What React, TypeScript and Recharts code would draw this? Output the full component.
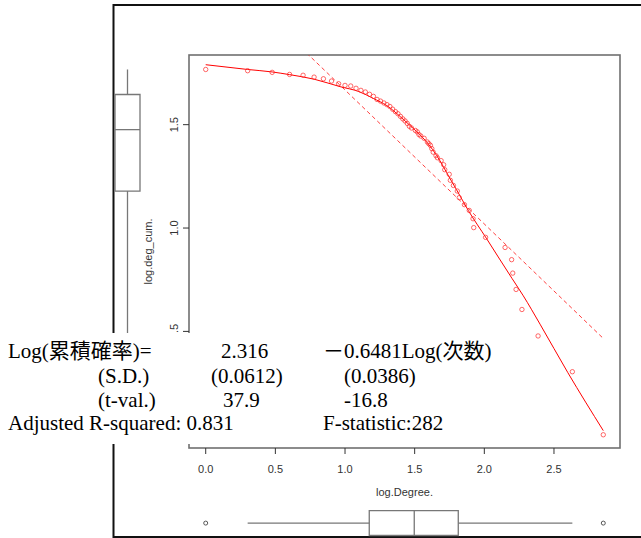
import {
  ComposedChart,
  Line,
  ReferenceArea,
  ReferenceLine,
  Scatter,
  XAxis,
  YAxis,
} from "recharts";

const W = 641;
const H = 538;
const SANS = "'Liberation Sans', Arial, sans-serif";
const SERIF = "'Liberation Serif', 'Noto Sans CJK JP', serif";

// plot region of the scatter panel (page px)
const PLOT = { left: 189, top: 55, right: 620, bottom: 448 };

const X_DOMAIN: [number, number] = [-0.12, 2.974];
const Y_DOMAIN: [number, number] = [-0.064, 1.837];
const xTicks = [0, 0.5, 1, 1.5, 2, 2.5];
const yTicks = [0, 0.5, 1, 1.5];

// observed points: log(degree) vs log(cumulative)
const logDegree = [
  0, 0.301, 0.477, 0.602, 0.699, 0.778, 0.845, 0.903, 0.954, 1.0, 1.041, 1.079,
  1.114, 1.146, 1.176, 1.204, 1.23, 1.255, 1.279, 1.301, 1.322, 1.342, 1.362,
  1.38, 1.398, 1.415, 1.431, 1.447, 1.462, 1.477, 1.505, 1.519, 1.531, 1.544,
  1.568, 1.591, 1.602, 1.613, 1.623, 1.633, 1.653, 1.663, 1.69, 1.708, 1.716,
  1.748, 1.756, 1.778, 1.806, 1.82, 1.857, 1.892, 1.919, 1.924, 2.009, 2.149,
  2.196, 2.204, 2.228, 2.27, 2.386, 2.632, 2.854,
];
const logDegCum = [
  1.767, 1.761, 1.753, 1.743, 1.739, 1.73, 1.722, 1.711, 1.698, 1.69, 1.687,
  1.676, 1.666, 1.658, 1.647, 1.637, 1.622, 1.614, 1.605, 1.597, 1.588, 1.575,
  1.563, 1.553, 1.54, 1.528, 1.518, 1.506, 1.492, 1.484, 1.472, 1.465, 1.452,
  1.445, 1.434, 1.416, 1.408, 1.4, 1.384, 1.367, 1.35, 1.34, 1.326, 1.306,
  1.282, 1.26, 1.231, 1.206, 1.179, 1.147, 1.113, 1.085, 1.045, 1.002, 0.955,
  0.906, 0.847, 0.782, 0.703, 0.606, 0.478, 0.305, 0.0,
];

// smoother (solid)
const smoothX = [
  0, 0.301, 0.477, 0.602, 0.778, 0.964, 1.1, 1.203, 1.3, 1.4, 1.467, 1.515, 1.6,
  1.658, 1.754, 1.8, 1.885, 2.017, 2.1, 2.2, 2.28, 2.4, 2.6, 2.854,
];
const smoothY = [
  1.79, 1.767, 1.755, 1.742, 1.72, 1.684, 1.66, 1.627, 1.592, 1.537, 1.496,
  1.466, 1.405, 1.351, 1.239, 1.186, 1.085, 0.948, 0.86, 0.755, 0.672, 0.535,
  0.3, 0.02,
];

// OLS fit (dashed): 2.316 - 0.6481 x over the data range
const fitX = [0, 2.854];
const fitY = [2.316, 0.466];

// marginal boxplots: [lower whisker, Q1, median, Q3, upper whisker]
const degreeBox = [0.301, 1.174, 1.497, 1.813, 2.632];
const degreeOutliers = [0, 2.854];
const cumBox = [0.478, 1.179, 1.476, 1.646, 1.767];
const cumOutliers = [0.305, 0.0];

const points = logDegree.map((x, i) => ({ x, y: logDegCum[i] }));
const smooth = smoothX.map((x, i) => ({ x, y: smoothY[i] }));
const fit = fitX.map((x, i) => ({ x, y: fitY[i] }));

const BOX_STROKE = "#777";

const XTick = (props: any) => {
  const { x, payload } = props;
  return (
    <text x={x} y={PLOT.bottom + 24.5} textAnchor="middle" fontSize={11} fontFamily={SANS} fill="#333">
      {Number(payload.value).toFixed(1)}
    </text>
  );
};

const YTick = (props: any) => {
  const { y, payload } = props;
  const bx = PLOT.left - 11;
  return (
    <text
      x={bx}
      y={y}
      transform={`rotate(-90 ${bx} ${y})`}
      textAnchor="middle"
      fontSize={11}
      fontFamily={SANS}
      fill="#333"
    >
      {Number(payload.value).toFixed(1)}
    </text>
  );
};

const ring = (stroke: string, r: number) => (p: any) =>
  <circle cx={p.cx} cy={p.cy} r={r} fill="none" stroke={stroke} strokeWidth={1} />;

const layer: React.CSSProperties = { position: "absolute", left: 0, top: 0 };

export default function App() {
  return (
    <div style={{ position: "absolute", left: 0, top: 0, width: W, height: H, overflow: "hidden", background: "#fff" }}>
      <svg width={W} height={H} style={layer}>
        <rect x={113.5} y={5} width={560} height={532} fill="none" stroke="#111" strokeWidth={2} />
        <rect
          x={PLOT.left}
          y={PLOT.top}
          width={PLOT.right - PLOT.left}
          height={PLOT.bottom - PLOT.top}
          fill="none"
          stroke="#707070"
          strokeWidth={1.6}
        />
      </svg>

      <div style={layer}>
        <ComposedChart width={W} height={H} margin={{ top: PLOT.top, right: W - PLOT.right, bottom: 0, left: 0 }}>
          <XAxis
            type="number"
            dataKey="x"
            domain={X_DOMAIN}
            ticks={xTicks}
            allowDataOverflow
            height={H - PLOT.bottom}
            axisLine={false}
            tickSize={6}
            tickLine={{ stroke: "#333" }}
            tick={XTick}
            interval={0}
            label={() => (
              <text x={(PLOT.left + PLOT.right) / 2} y={PLOT.bottom + 48} textAnchor="middle" fontSize={11} fontFamily={SANS} fill="#333">
                log.Degree.
              </text>
            )}
          />
          <YAxis
            type="number"
            dataKey="y"
            domain={Y_DOMAIN}
            ticks={yTicks}
            allowDataOverflow
            width={PLOT.left}
            axisLine={false}
            tickSize={6}
            tickLine={{ stroke: "#333" }}
            tick={YTick}
            interval={0}
            label={() => {
              const bx = PLOT.left - 37.5;
              const cy = (PLOT.top + PLOT.bottom) / 2;
              return (
                <text x={bx} y={cy} transform={`rotate(-90 ${bx} ${cy})`} textAnchor="middle" fontSize={11} fontFamily={SANS} fill="#333">
                  log.deg_cum.
                </text>
              );
            }}
          />
          <Line
            data={fit}
            dataKey="y"
            type="linear"
            stroke="#ff0000"
            strokeOpacity={0.75}
            strokeWidth={1}
            strokeDasharray="4 3"
            dot={false}
            isAnimationActive={false}
          />
          <Line
            data={smooth}
            dataKey="y"
            type="monotone"
            stroke="#ff0000"
            strokeWidth={1}
            dot={false}
            isAnimationActive={false}
          />
          <Scatter data={points} dataKey="y" shape={ring("rgba(255,40,40,0.7)", 2.2)} isAnimationActive={false} />
        </ComposedChart>
      </div>

      {/* left marginal boxplot of log.deg_cum. */}
      <div style={layer}>
        <ComposedChart width={W} height={H} margin={{ top: PLOT.top, right: W - 140, bottom: H - PLOT.bottom, left: 115 }}>
          <XAxis type="number" dataKey="x" domain={[0, 1]} hide />
          <YAxis type="number" dataKey="y" domain={Y_DOMAIN} allowDataOverflow hide />
          <ReferenceLine segment={[{ x: 0.5, y: cumBox[3] }, { x: 0.5, y: cumBox[4] }]} stroke={BOX_STROKE} strokeWidth={1.3} />
          <ReferenceLine segment={[{ x: 0.5, y: cumBox[0] }, { x: 0.5, y: cumBox[1] }]} stroke={BOX_STROKE} strokeWidth={1.3} />
          <ReferenceArea x1={0} x2={1} y1={cumBox[1]} y2={cumBox[3]} fill="#fff" fillOpacity={1} stroke={BOX_STROKE} strokeWidth={1.3} ifOverflow="visible" />
          <ReferenceLine y={cumBox[2]} stroke={BOX_STROKE} strokeWidth={1.3} />
          <Scatter data={cumOutliers.map((y) => ({ x: 0.5, y }))} dataKey="y" shape={ring("#555", 2)} isAnimationActive={false} />
        </ComposedChart>
      </div>

      {/* bottom marginal boxplot of log.Degree. */}
      <div style={layer}>
        <ComposedChart width={W} height={H} margin={{ top: 510.7, right: W - PLOT.right, bottom: 2.5, left: PLOT.left }}>
          <XAxis type="number" dataKey="x" domain={X_DOMAIN} allowDataOverflow hide />
          <YAxis type="number" dataKey="y" domain={[0, 1]} hide />
          <ReferenceLine segment={[{ x: degreeBox[0], y: 0.5 }, { x: degreeBox[1], y: 0.5 }]} stroke={BOX_STROKE} strokeWidth={1.3} />
          <ReferenceLine segment={[{ x: degreeBox[3], y: 0.5 }, { x: degreeBox[4], y: 0.5 }]} stroke={BOX_STROKE} strokeWidth={1.3} />
          <ReferenceArea x1={degreeBox[1]} x2={degreeBox[3]} y1={0} y2={1} fill="#fff" fillOpacity={1} stroke={BOX_STROKE} strokeWidth={1.3} ifOverflow="visible" />
          <ReferenceLine x={degreeBox[2]} stroke={BOX_STROKE} strokeWidth={1.3} />
          <Scatter data={degreeOutliers.map((x) => ({ x, y: 0.5 }))} dataKey="y" shape={ring("#555", 2)} isAnimationActive={false} />
        </ComposedChart>
      </div>

      {/* pasted regression summary */}
      <svg width={W} height={H} style={layer}>
        <rect x={0} y={333} width={500} height={111} fill="#fff" />
        <g fontFamily={SERIF} fontSize={21} fill="#000">
          <text x={8} y={358}>Log(累積確率)=</text>
          <text x={221} y={358}>2.316</text>
          <text x={323} y={358}>－0.6481Log(次数)</text>
          <text x={98} y={383}>(S.D.)</text>
          <text x={211} y={383}>(0.0612)</text>
          <text x={344} y={383}>(0.0386)</text>
          <text x={98} y={406.5}>(t-val.)</text>
          <text x={223} y={406.5}>37.9</text>
          <text x={344} y={406.5}>-16.8</text>
          <text x={8} y={430}>Adjusted R-squared: 0.831</text>
          <text x={323} y={430}>F-statistic:282</text>
        </g>
      </svg>
    </div>
  );
}
